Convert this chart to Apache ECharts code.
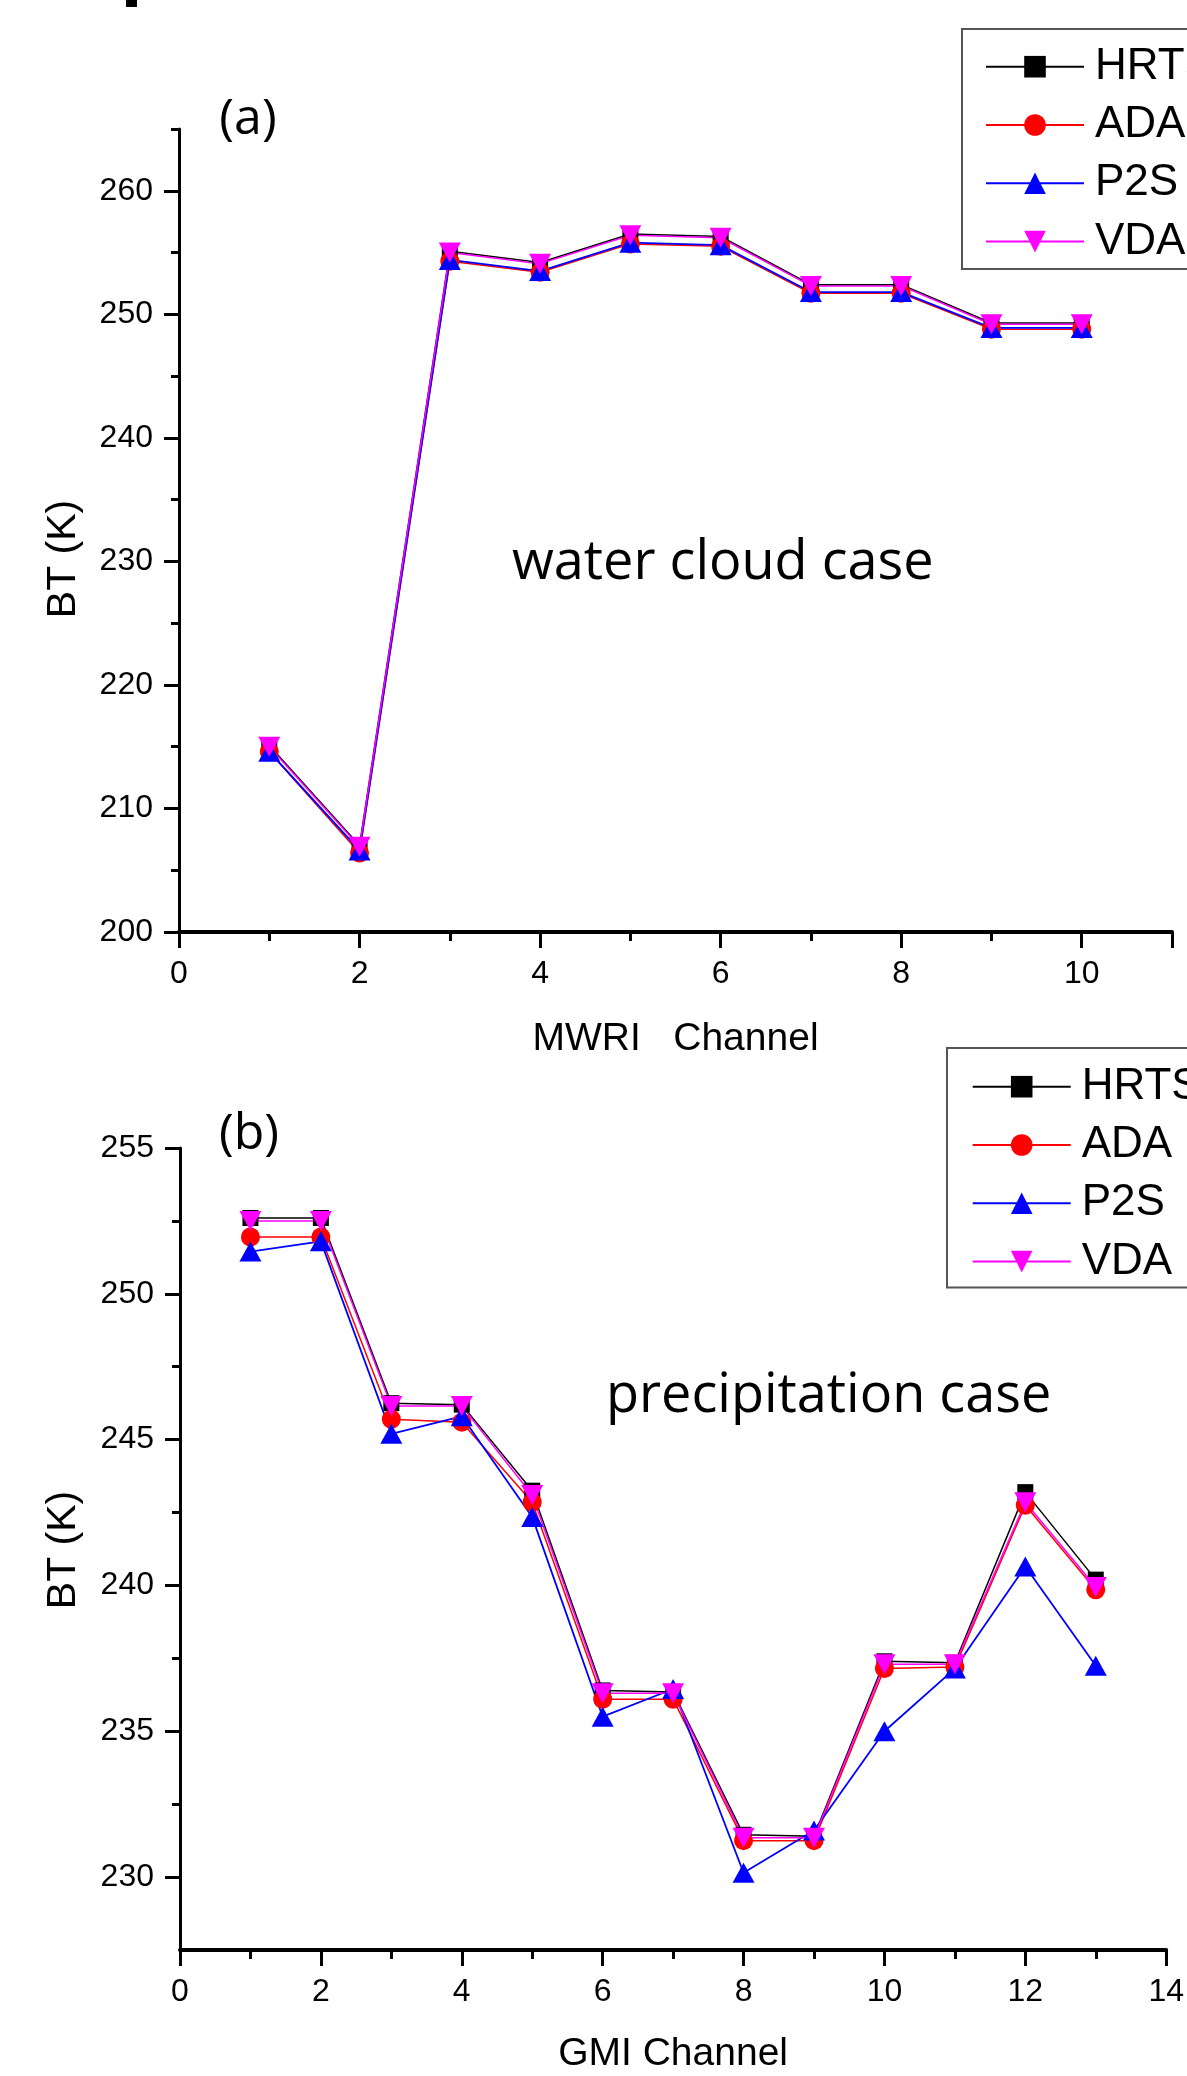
<!DOCTYPE html>
<html><head><meta charset="utf-8">
<script src="https://cdn.jsdelivr.net/npm/echarts@6/dist/echarts.min.js"></script>
<style>html,body{margin:0;padding:0;background:#fff}#c{width:1187px;height:2076px}</style>
</head><body><div id="c"></div>
<script>
// ---- data (panel a: MWRI water cloud case) ----
const mwriChannels = [1, 2, 3, 4, 5, 6, 7, 8, 9, 10];
const mwriHRTS = [215.1, 207.0, 255.1, 254.2, 256.5, 256.3, 252.4, 252.4, 249.3, 249.3];
const mwriADA  = [214.6, 206.4, 254.3, 253.4, 255.7, 255.5, 251.7, 251.7, 248.8, 248.8];
const mwriP2S  = [214.6, 206.6, 254.4, 253.5, 255.8, 255.6, 251.8, 251.8, 248.9, 248.9];
const mwriVDA  = [215.0, 206.9, 255.0, 254.1, 256.4, 256.2, 252.3, 252.3, 249.2, 249.2];

// ---- data (panel b: GMI precipitation case) ----
const gmiChannels = [1, 2, 3, 4, 5, 6, 7, 8, 9, 10, 11, 12, 13];
const gmiHRTS = [252.6, 252.6, 246.25, 246.2, 243.25, 236.4, 236.35, 231.45, 231.4, 237.4, 237.35, 243.2, 240.2];
const gmiADA  = [251.95, 251.95, 245.7, 245.6, 242.85, 236.1, 236.1, 231.25, 231.25, 237.15, 237.2, 242.75, 239.85];
const gmiP2S  = [251.45, 251.8, 245.2, 245.8, 242.35, 235.5, 236.45, 230.15, 231.6, 235.0, 237.15, 240.65, 237.25];
const gmiVDA  = [252.5, 252.5, 246.15, 246.15, 243.1, 236.3, 236.3, 231.35, 231.35, 237.3, 237.3, 242.85, 239.95];

const seriesNames = ['HRTS', 'ADA', 'P2S', 'VDA'];

// ---- ticks ----
const aXTickLabels = [0, 2, 4, 6, 8, 10];
const aXMajorTicks = [0, 2, 4, 6, 8, 10, 11];
const aXMinorTicks = [1, 3, 5, 7, 9];
const aYTickLabels = [200, 210, 220, 230, 240, 250, 260];
const aYMinorTicks = [205, 215, 225, 235, 245, 255, 265];
const bXTickLabels = [0, 2, 4, 6, 8, 10, 12, 14];
const bXMinorTicks = [1, 3, 5, 7, 9, 11, 13];
const bYTickLabels = [230, 235, 240, 245, 250, 255];
const bYMinorTicks = [232.5, 237.5, 242.5, 247.5, 252.5];

const FONT = "'Liberation Sans', Arial, sans-serif";
const FONT2 = "'Open Sans', 'Noto Sans', sans-serif";

const styles = [
  { color: '#000000', symbol: 'rect', size: 16, rotate: 0, width: 1.5 },
  { color: '#ff0000', symbol: 'circle', size: 19, rotate: 0, width: 1.5 },
  { color: '#0000ff', symbol: 'triangle', size: [22, 20], rotate: 0, width: 1.8 },
  { color: '#ff00ff', symbol: 'triangle', size: [22, 20], rotate: 180, width: 1.5 }
];

function axisPair(kind, gridIndex, min, max, labels, majors, minors, name, nameGap) {
  const isX = kind === 'x';
  const main = {
    type: 'value', gridIndex, min, max,
    position: isX ? 'bottom' : 'left',
    axisLine: { show: true, onZero: false, lineStyle: { color: '#000', width: isX ? 4 : 3 } },
    axisTick: { show: true, inside: false, length: isX ? 16 : 15, customValues: majors,
      lineStyle: { color: '#000', width: 3 } },
    axisLabel: { show: true, customValues: labels, margin: 26, fontSize: 32, fontFamily: FONT, color: '#000' },
    splitLine: { show: false }
  };
  if (name) {
    main.name = name;
    main.nameLocation = 'middle';
    main.nameGap = nameGap;
    main.nameTextStyle = { fontSize: 39, fontFamily: FONT, color: '#000' };
  }
  const minor = {
    type: 'value', gridIndex, min, max,
    position: isX ? 'bottom' : 'left',
    axisLine: { show: false, onZero: false },
    axisTick: { show: true, inside: false, length: isX ? 9 : 8, customValues: minors,
      lineStyle: { color: '#000', width: 3 } },
    axisLabel: { show: false },
    splitLine: { show: false }
  };
  return [main, minor];
}

function makeSeries(xs, valueSets, xIdx, yIdx) {
  return valueSets.map((vals, i) => ({
    name: seriesNames[i],
    type: 'line',
    xAxisIndex: xIdx, yAxisIndex: yIdx,
    data: xs.map((x, k) => [x, vals[k]]),
    symbol: styles[i].symbol,
    symbolSize: styles[i].size,
    symbolRotate: styles[i].rotate,
    showSymbol: true,
    lineStyle: { color: styles[i].color, width: styles[i].width },
    itemStyle: { color: styles[i].color },
    emphasis: { disabled: true },
    animation: false
  }));
}

function legendAt(left, top, padding) {
  return {
    data: seriesNames,
    orient: 'vertical',
    left, top,
    padding,
    itemWidth: 98,
    itemHeight: 27,
    itemGap: 6.3,
    symbolRotate: 'inherit',
    backgroundColor: '#fff',
    borderColor: '#555',
    borderWidth: 2,
    borderRadius: 0,
    selectedMode: false,
    textStyle: { fontFamily: FONT, fontSize: 44, color: '#000', lineHeight: 52, padding: [0, 0, 0, 6] }
  };
}

const chart = echarts.init(document.getElementById('c'), null, { renderer: 'canvas' });

const option = {
  backgroundColor: '#fff',
  animation: false,
  grid: [
    { left: 179, top: 129, width: 993, height: 803, containLabel: false },
    { left: 180, top: 1148, width: 990, height: 802, containLabel: false }
  ],
  xAxis: [
    ...axisPair('x', 0, 0, 11, aXTickLabels, aXMajorTicks, aXMinorTicks, 'MWRI   Channel', 88),
    ...axisPair('x', 1, 0, 14, bXTickLabels, bXTickLabels, bXMinorTicks, 'GMI Channel', 85)
  ],
  yAxis: [
    ...axisPair('y', 0, 200, 265, aYTickLabels, aYTickLabels, aYMinorTicks),
    ...axisPair('y', 1, 227.5, 255, bYTickLabels, bYTickLabels, bYMinorTicks)
  ],
  legend: [
    legendAt(962, 29, [11.7, 30, 1.3, 23]),
    legendAt(947, 1048, [12.7, 30, 0, 24.7])
  ],
  series: [
    ...makeSeries(mwriChannels, [mwriHRTS, mwriADA, mwriP2S, mwriVDA], 0, 0),
    ...makeSeries(gmiChannels, [gmiHRTS, gmiADA, gmiP2S, gmiVDA], 2, 2)
  ],
  graphic: [
    { type: 'rect', shape: { x: 126, y: 0, width: 11, height: 7 }, style: { fill: '#000' } },
    { type: 'text', x: 248, y: 120, style: { text: '(a)', font: "50px " + FONT2, fill: '#000', textAlign: 'center', textVerticalAlign: 'middle', align: 'center', verticalAlign: 'middle' } },
    { type: 'text', x: 249, y: 1135, style: { text: '(b)', font: "50px " + FONT2, fill: '#000', textAlign: 'center', textVerticalAlign: 'middle', align: 'center', verticalAlign: 'middle' } },
    { type: 'text', x: 512, y: 564, style: { text: 'water cloud case', font: "54px " + FONT2, fill: '#000', textAlign: 'left', textVerticalAlign: 'middle', align: 'left', verticalAlign: 'middle' } },
    { type: 'text', x: 606, y: 1397, style: { text: 'precipitation case', font: "54px " + FONT2, fill: '#000', textAlign: 'left', textVerticalAlign: 'middle', align: 'left', verticalAlign: 'middle' } },
    { type: 'text', x: 64, y: 559, rotation: Math.PI / 2, style: { text: 'BT (K)', font: "41px " + FONT, fill: '#000', textAlign: 'center', textVerticalAlign: 'middle', align: 'center', verticalAlign: 'middle' } },
    { type: 'text', x: 64, y: 1550, rotation: Math.PI / 2, style: { text: 'BT (K)', font: "41px " + FONT, fill: '#000', textAlign: 'center', textVerticalAlign: 'middle', align: 'center', verticalAlign: 'middle' } }
  ]
};
chart.setOption(option);
</script>
</body></html>
